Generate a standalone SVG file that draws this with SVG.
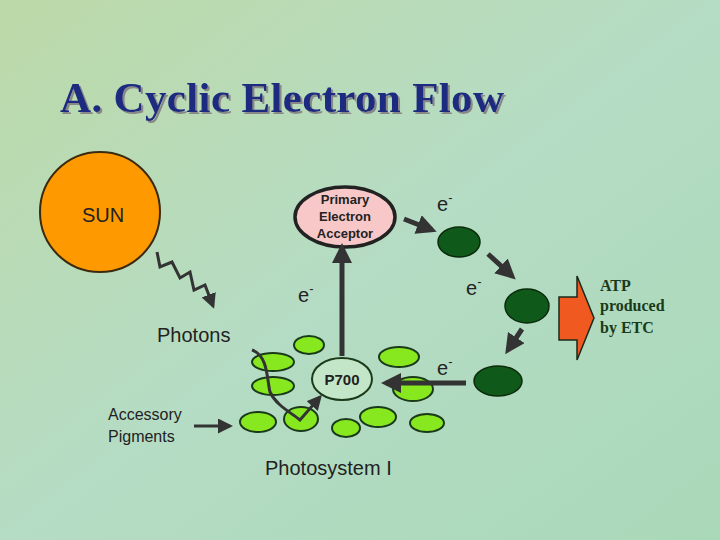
<svg xmlns="http://www.w3.org/2000/svg" width="720" height="540" viewBox="0 0 720 540">
<defs>
<linearGradient id="bg" x1="0" y1="0" x2="1" y2="1">
<stop offset="0" stop-color="#bcd9a8"/><stop offset="0.5" stop-color="#b5dcc4"/><stop offset="1" stop-color="#a9d8b8"/>
</linearGradient>
<filter id="sh" x="-5%" y="-20%" width="110%" height="140%"><feDropShadow dx="2" dy="2" stdDeviation="0.5" flood-color="#888"/></filter>
<marker id="ah" markerWidth="4" markerHeight="4" refX="3" refY="2" orient="auto" markerUnits="strokeWidth"><path d="M0,0 L4,2 L0,4 Z" fill="#333"/></marker>
<marker id="ah2" markerWidth="5" markerHeight="5" refX="4" refY="2.5" orient="auto" markerUnits="strokeWidth"><path d="M0,0 L5,2.5 L0,5 Z" fill="#333"/></marker>
</defs>
<style>
.lg{fill:#88e820;stroke:#1a3a1a;stroke-width:2}
.dg{fill:#0f5a1a;stroke:#0a2a0a;stroke-width:1.5}
.s{font-family:"Liberation Sans",Arial,sans-serif;fill:#222}
.c{stroke:#333;stroke-width:5;fill:none;marker-end:url(#ah)}
.t{stroke:#333;stroke-width:3;fill:none;marker-end:url(#ah2)}
</style>
<rect width="720" height="540" fill="url(#bg)"/>
<text x="60" y="112" font-family="Liberation Serif,serif" font-size="43" font-weight="bold" fill="#1a2a80" filter="url(#sh)" textLength="444">A. Cyclic Electron Flow</text>
<g id="sun"><circle cx="100" cy="212" r="60" fill="#ff9900" stroke="#3a2a10" stroke-width="2"/><text class="s" x="103" y="222" font-size="20" text-anchor="middle">SUN</text></g>
<g id="acceptor"><ellipse cx="345" cy="217" rx="50" ry="30" fill="#f8c8c8" stroke="#222" stroke-width="3.5"/>
<text class="s" font-size="13" font-weight="bold" text-anchor="middle"><tspan x="345" y="204">Primary</tspan><tspan x="345" y="221">Electron</tspan><tspan x="345" y="238">Acceptor</tspan></text></g>
<g id="carriers"><ellipse class="dg" cx="459" cy="242" rx="21" ry="15"/><ellipse class="dg" cx="527" cy="306" rx="22" ry="17"/><ellipse class="dg" cx="498" cy="381" rx="24" ry="15"/></g>
<g id="pigments">
<ellipse class="lg" cx="309" cy="345" rx="15" ry="9"/><ellipse class="lg" cx="273" cy="362" rx="21" ry="9"/><ellipse class="lg" cx="273" cy="386" rx="21" ry="9"/>
<ellipse class="lg" cx="399" cy="357" rx="20" ry="10"/><ellipse class="lg" cx="413" cy="389" rx="20" ry="12"/><ellipse class="lg" cx="258" cy="422" rx="18" ry="10"/>
<ellipse class="lg" cx="301" cy="419" rx="17" ry="12"/><ellipse class="lg" cx="378" cy="417" rx="18" ry="10"/><ellipse class="lg" cx="346" cy="428" rx="14" ry="9"/><ellipse class="lg" cx="427" cy="423" rx="17" ry="9"/>
</g>
<g id="p700"><ellipse cx="342" cy="379" rx="30" ry="21" fill="#c4e6c8" stroke="#1a3a1a" stroke-width="2"/><text class="s" x="342" y="385" font-size="15" text-anchor="middle" font-weight="bold">P700</text></g>
<g id="atp"><polygon points="559,297 577,297 577,276 594,318 577,360 577,340 559,340" fill="#f05a20" stroke="#1a2a1a" stroke-width="1.5"/>
<text font-family="Liberation Serif,serif" font-size="16" font-weight="bold" fill="#1a3a1a"><tspan x="600" y="291">ATP</tspan><tspan x="600" y="311">produced</tspan><tspan x="600" y="333">by ETC</tspan></text></g>
<g id="connectors">
<line class="c" x1="404" y1="219" x2="432" y2="230"/>
<line class="c" x1="488" y1="254" x2="512" y2="276"/>
<line class="c" x1="522" y1="329" x2="508" y2="350"/>
<line class="c" x1="466" y1="383" x2="386" y2="383"/>
<line class="c" x1="342" y1="356" x2="342" y2="248"/>
<path class="t" d="M157,252 L160,267 L172,262 L180,278 L190,272 L194,290 L205,285 L213,306"/>
<path class="t" d="M252,350 C268,355 267,380 270,392 C276,405 290,412 300,420 L320,397"/>
<line class="t" x1="194" y1="426" x2="230" y2="426"/>
</g>
<g class="s" font-size="20">
<text x="437" y="211">e<tspan font-size="13" dy="-9">-</tspan></text>
<text x="298" y="302">e<tspan font-size="13" dy="-9">-</tspan></text>
<text x="466" y="295">e<tspan font-size="13" dy="-9">-</tspan></text>
<text x="437" y="375">e<tspan font-size="13" dy="-9">-</tspan></text>
</g>
<text class="s" x="157" y="342" font-size="20">Photons</text>
<text class="s" font-size="16"><tspan x="108" y="420">Accessory</tspan><tspan x="108" y="442">Pigments</tspan></text>
<text class="s" x="265" y="475" font-size="20">Photosystem I</text>
</svg>
